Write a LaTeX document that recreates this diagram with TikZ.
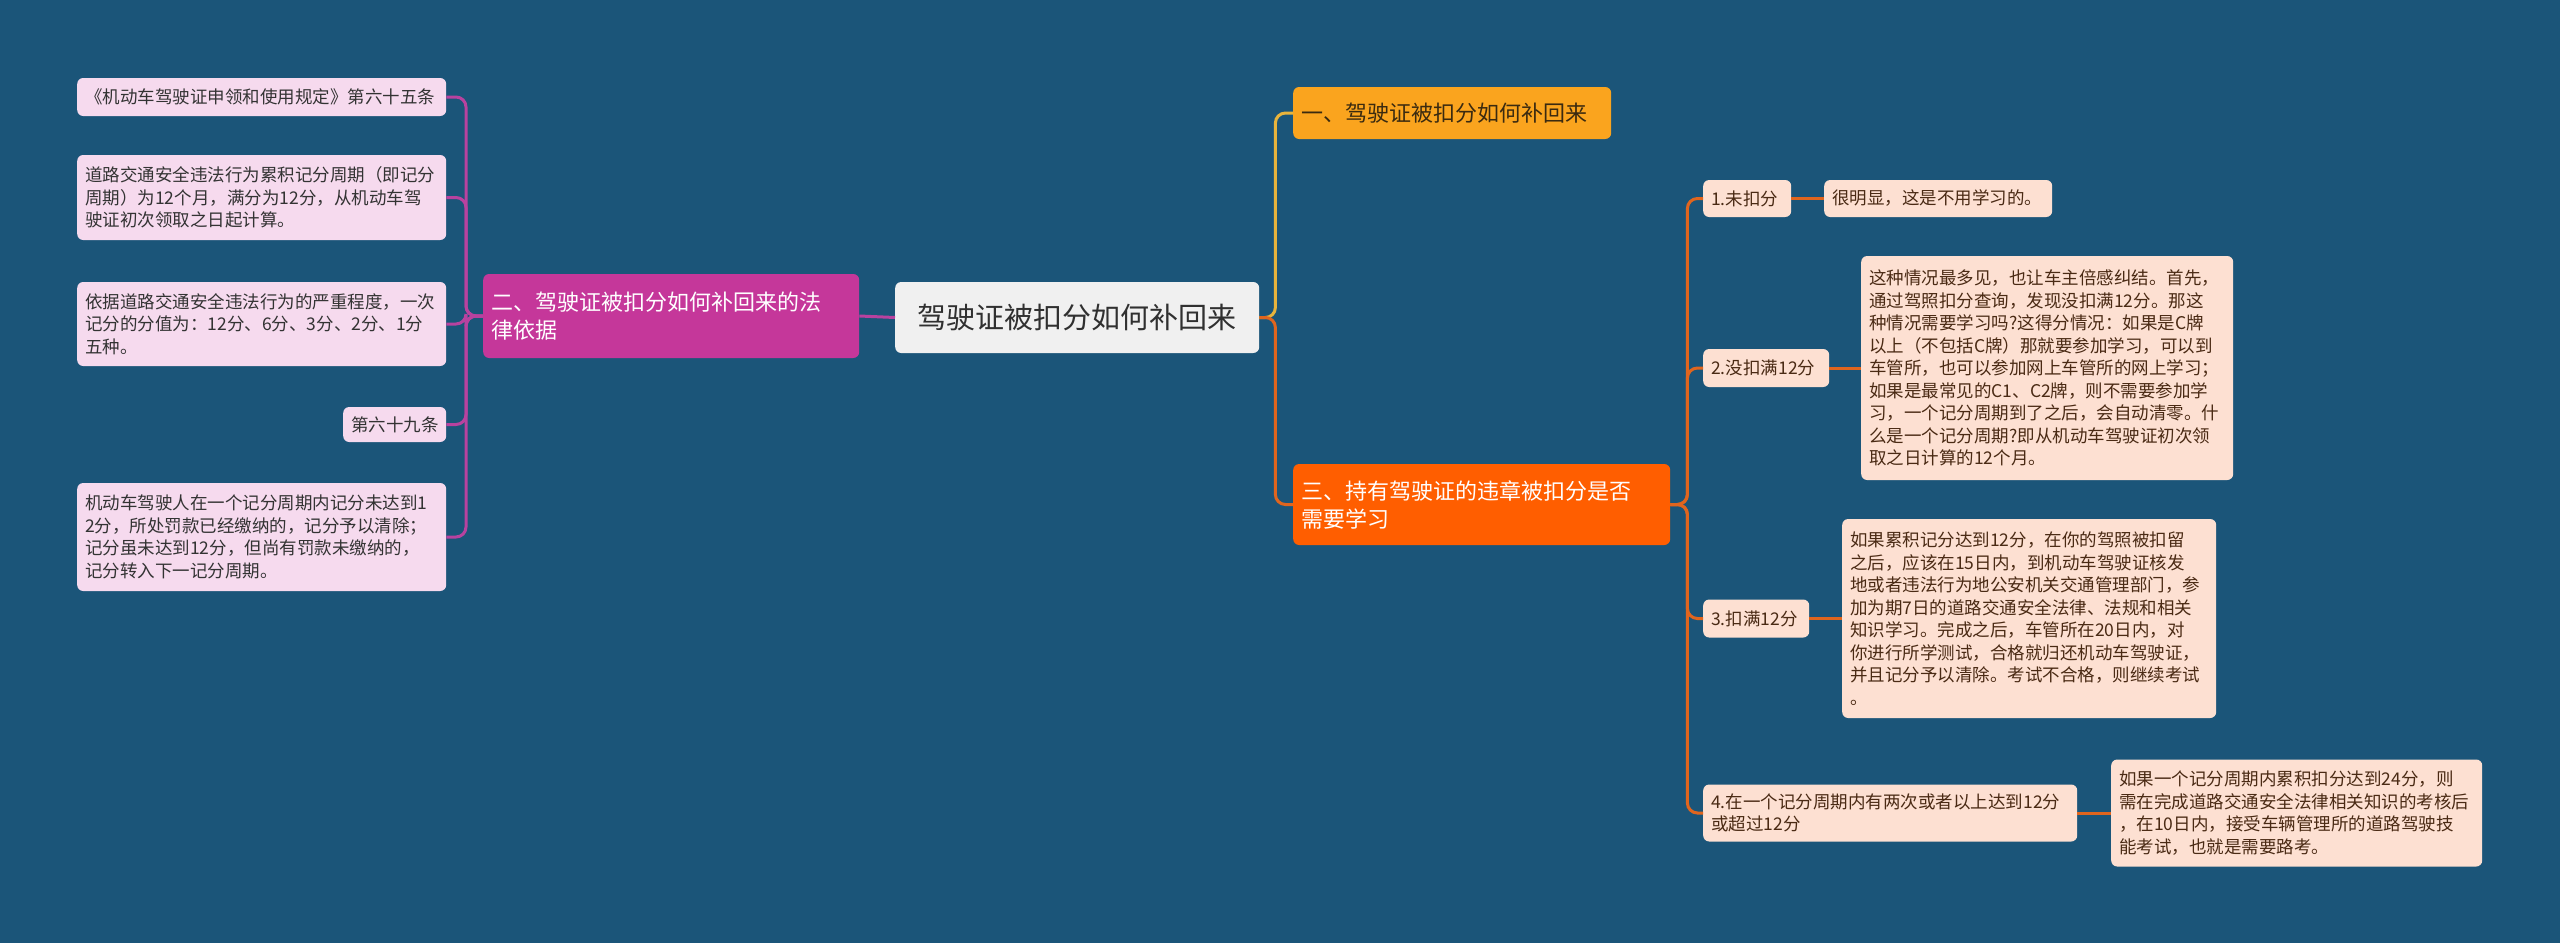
\documentclass[tikz,border=0pt]{standalone}
\usepackage{fontspec}
\newfontfamily\cjk{Noto Sans CJK SC}
\definecolor{bgc}{HTML}{1B5579}
\definecolor{lpink}{HTML}{F6DAEE}
\definecolor{ltext}{HTML}{333333}
\definecolor{magbox}{HTML}{C5379A}
\definecolor{purpleline}{HTML}{B8429F}
\definecolor{rootfill}{HTML}{F0F0F0}
\definecolor{roottext}{HTML}{303030}
\definecolor{onefill}{HTML}{FAA41E}
\definecolor{onetext}{HTML}{3A2A10}
\definecolor{threefill}{HTML}{FF5E00}
\definecolor{peach}{HTML}{FDE0D2}
\definecolor{rtext}{HTML}{4A2A14}
\definecolor{orangeline}{HTML}{E0651E}
\definecolor{yellowline}{HTML}{E8B43C}
\tikzset{
  base/.style={rounded corners=6pt, anchor=west, inner xsep=8pt, inner ysep=3pt, align=left},
  small/.style={font=\cjk\fontsize{17.5}{22.5}\selectfont},
  big/.style={font=\cjk\fontsize{22}{28}\selectfont},
  lbox/.style={base, small, fill=lpink, text=ltext},
  rbox/.style={base, small, fill=peach, text=rtext},
  conn/.style={line width=3pt, rounded corners=10pt},
}
\begin{document}
\begin{tikzpicture}[x=1pt,y=1pt]
\fill[bgc] (0,0) rectangle (2560,-943);
\useasboundingbox (0,0) rectangle (2560,-943);

% root
\node[base, fill=rootfill, text=roottext, font=\cjk\fontsize{29}{34}\selectfont, text width=348pt, minimum height=71pt, align=center] (root) at (895,-317.5) {驾驶证被扣分如何补回来};

% left branch
\node[base, big, fill=magbox, text=white, text width=360pt, minimum height=84pt] (two) at (483,-316) {二、驾驶证被扣分如何补回来的法\\律依据};

\node[lbox, text width=353pt, minimum height=38pt] (l1) at (77,-97) {《机动车驾驶证申领和使用规定》第六十五条};
\node[lbox, text width=353pt, minimum height=85pt] (l2) at (77,-197.5) {道路交通安全违法行为累积记分周期（即记分\\周期）为12个月，满分为12分，从机动车驾\\驶证初次领取之日起计算。};
\node[lbox, text width=353pt, minimum height=84pt] (l3) at (77,-324) {依据道路交通安全违法行为的严重程度，一次\\记分的分值为：12分、6分、3分、2分、1分\\五种。};
\node[lbox, text width=87pt, minimum height=35pt] (l4) at (343,-424.5) {第六十九条};
\node[lbox, text width=353pt, minimum height=108pt] (l5) at (77,-537) {机动车驾驶人在一个记分周期内记分未达到1\\2分，所处罚款已经缴纳的，记分予以清除；\\记分虽未达到12分，但尚有罚款未缴纳的，\\记分转入下一记分周期。};

% right branch
\node[base, big, fill=onefill, text=onetext, text width=302pt, minimum height=52pt] (one) at (1293,-113) {一、驾驶证被扣分如何补回来};
\node[base, big, fill=threefill, text=white, text width=361pt, minimum height=81pt] (three) at (1293,-504.5) {三、持有驾驶证的违章被扣分是否\\需要学习};

\node[rbox, text width=72pt, minimum height=37pt] (c1) at (1703,-198.5) {1.未扣分};
\node[rbox, text width=212pt, minimum height=37pt] (d1) at (1824,-198.5) {很明显，这是不用学习的。};
\node[rbox, text width=110pt, minimum height=38pt] (c2) at (1703,-368) {2.没扣满12分};
\node[rbox, text width=356pt, minimum height=224pt] (d2) at (1861,-368) {这种情况最多见，也让车主倍感纠结。首先，\\通过驾照扣分查询，发现没扣满12分。那这\\种情况需要学习吗?这得分情况：如果是C牌\\以上（不包括C牌）那就要参加学习，可以到\\车管所，也可以参加网上车管所的网上学习；\\如果是最常见的C1、C2牌，则不需要参加学\\习，一个记分周期到了之后，会自动清零。什\\么是一个记分周期?即从机动车驾驶证初次领\\取之日计算的12个月。};
\node[rbox, text width=90pt, minimum height=38pt] (c3) at (1703,-618.5) {3.扣满12分};
\node[rbox, text width=358pt, minimum height=199pt] (d3) at (1842,-618.5) {如果累积记分达到12分，在你的驾照被扣留\\之后，应该在15日内，到机动车驾驶证核发\\地或者违法行为地公安机关交通管理部门，参\\加为期7日的道路交通安全法律、法规和相关\\知识学习。完成之后，车管所在20日内，对\\你进行所学测试，合格就归还机动车驾驶证，\\并且记分予以清除。考试不合格，则继续考试\\。};
\node[rbox, text width=358pt, minimum height=57pt] (c4) at (1703,-813) {4.在一个记分周期内有两次或者以上达到12分\\或超过12分};
\node[rbox, text width=355pt, minimum height=107pt] (d4) at (2111,-813) {如果一个记分周期内累积扣分达到24分，则\\需在完成道路交通安全法律相关知识的考核后\\，在10日内，接受车辆管理所的道路驾驶技\\能考试，也就是需要路考。};

% connectors
\draw[conn, purpleline] (root.west) -- (two.east);
\foreach \n in {l1,l2,l3,l4,l5}
  \draw[conn, purpleline] (two.west) -- ++(-17,0) |- (\n.east);
\draw[conn, yellowline] (root.east) -- ++(16,0) |- (one.west);
\draw[conn, orangeline] (root.east) -- ++(16,0) |- (three.west);
\foreach \n in {c1,c2,c3,c4}
  \draw[conn, orangeline] (three.east) -- ++(17,0) |- (\n.west);
\draw[conn, orangeline] (c1.east) -- (d1.west);
\draw[conn, orangeline] (c2.east) -- (d2.west);
\draw[conn, orangeline] (c3.east) -- (d3.west);
\draw[conn, orangeline] (c4.east) -- (d4.west);
\end{tikzpicture}
\end{document}
